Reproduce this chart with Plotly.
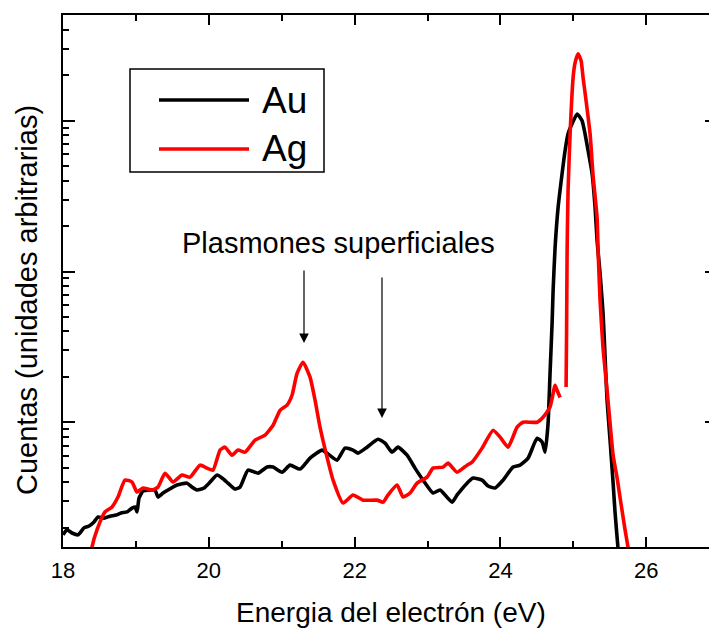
import plotly.graph_objects as go

# Au (black) spectrum: electron energy (eV) and counts (arb. units, log axis)
au_energy = [18.000, 18.055, 18.124, 18.206, 18.288, 18.357, 18.426, 18.480, 18.563, 18.645,
             18.727, 18.796, 18.878, 18.947, 18.988, 19.015, 19.043, 19.097, 19.193, 19.262,
             19.303, 19.372, 19.440, 19.564, 19.701, 19.770, 19.838, 19.934, 20.003, 20.113,
             20.181, 20.263, 20.359, 20.428, 20.538, 20.675, 20.798, 20.881, 21.004, 21.114,
             21.251, 21.388, 21.553, 21.621, 21.759, 21.868, 21.978, 22.047, 22.170, 22.321,
             22.417, 22.513, 22.595, 22.719, 22.828, 22.938, 23.075, 23.171, 23.336, 23.405,
             23.542, 23.624, 23.748, 23.830, 23.926, 24.036, 24.173, 24.269, 24.379, 24.502,
             24.571, 24.612, 24.653, 24.680, 24.708, 24.722, 24.749, 24.790, 24.845, 24.886,
             24.927, 24.982, 25.051, 25.119, 25.160, 25.202, 25.257, 25.298, 25.325, 25.366,
             25.407, 25.435, 25.462, 25.503, 25.545, 25.572, 25.614, 25.650]
au_counts = [0.179, 0.193, 0.184, 0.179, 0.199, 0.205, 0.218, 0.235, 0.231, 0.238,
             0.242, 0.250, 0.254, 0.269, 0.274, 0.254, 0.314, 0.349, 0.355, 0.355,
             0.319, 0.339, 0.355, 0.383, 0.394, 0.371, 0.355, 0.366, 0.394, 0.446,
             0.426, 0.394, 0.360, 0.371, 0.481, 0.459, 0.504, 0.504, 0.466, 0.519,
             0.489, 0.578, 0.653, 0.623, 0.560, 0.673, 0.653, 0.623, 0.683, 0.771,
             0.726, 0.633, 0.683, 0.604, 0.496, 0.413, 0.339, 0.355, 0.295, 0.329,
             0.394, 0.426, 0.413, 0.377, 0.366, 0.413, 0.504, 0.519, 0.578, 0.783,
             0.738, 0.633, 0.985, 2.11, 4.53, 7.48, 14.4, 26.5, 44.6, 63.3,
             82.0, 95.5, 111.0, 100.0, 82.0, 63.3, 44.6, 26.5, 16.0, 9.70,
             5.27, 2.69, 1.40, 0.760, 0.394, 0.250, 0.142, 0.090]

# Ag (red) spectrum; None marks the break in the recorded curve
ag_energy = [18.370, 18.398, 18.466, 18.576, 18.672, 18.754, 18.850, 18.947, 19.015, 19.097,
             19.221, 19.303, 19.399, 19.509, 19.632, 19.742, 19.879, 19.975, 20.058, 20.154,
             20.222, 20.318, 20.401, 20.497, 20.634, 20.771, 20.881, 20.977, 21.073, 21.141,
             21.210, 21.292, 21.388, 21.457, 21.525, 21.621, 21.704, 21.841, 21.978, 22.115,
             22.307, 22.390, 22.458, 22.582, 22.664, 22.760, 22.856, 22.993, 23.075, 23.213,
             23.281, 23.405, 23.542, 23.610, 23.748, 23.899, 23.995, 24.104, 24.228, 24.310,
             24.502, 24.584, 24.680, 24.749, 24.776, 24.818, None,
             24.900, 24.907, 24.914, 24.927, 24.955, 24.996, 25.023, 25.064, 25.106, 25.133,
             25.174, 25.229, 25.270, 25.325, 25.339, 25.366, 25.407, 25.462, 25.503, 25.545,
             25.600, 25.641, 25.709, 25.750, 25.800]
ag_counts = [0.122, 0.149, 0.193, 0.254, 0.274, 0.319, 0.413, 0.401, 0.344, 0.366,
             0.355, 0.371, 0.459, 0.401, 0.446, 0.432, 0.519, 0.496, 0.481, 0.653,
             0.683, 0.604, 0.653, 0.633, 0.760, 0.820, 0.955, 1.20, 1.30, 1.51,
             2.11, 2.50, 1.99, 1.40, 0.927, 0.587, 0.413, 0.291, 0.329, 0.304,
             0.304, 0.295, 0.329, 0.383, 0.319, 0.339, 0.394, 0.432, 0.496, 0.504,
             0.535, 0.466, 0.519, 0.543, 0.673, 0.885, 0.796, 0.683, 0.927, 1.0,
             1.0, 1.08, 1.26, 1.76, 1.63, 1.46, None,
             1.71, 4.07, 13.8, 34.4, 82.0, 193.0, 242.0, 278.0, 250.0, 193.0,
             136.0, 82.0, 43.2, 22.8, 13.8, 6.43, 3.09, 1.63, 0.985, 0.604,
             0.426, 0.314, 0.193, 0.147, 0.090]

x_range = [18, 26.86]
y_log_range = [-0.828, 2.702]
x_ticks = [18, 20, 22, 24, 26]
series_names = ["Au", "Ag"]
series_colors = ["#000000", "#ff0000"]

FONT = "Liberation Sans, Arial, sans-serif"

fig = go.Figure()
fig.add_trace(go.Scatter(x=au_energy, y=au_counts, mode="lines", name=series_names[0],
                         line=dict(color=series_colors[0], width=3.6, shape="spline",
                                   smoothing=0.5),
                         connectgaps=False, showlegend=False))
fig.add_trace(go.Scatter(x=ag_energy, y=ag_counts, mode="lines", name=series_names[1],
                         line=dict(color=series_colors[1], width=3.6, shape="spline",
                                   smoothing=0.5),
                         connectgaps=False, showlegend=False))
# invisible trace to drive the right-hand axis tick marks
fig.add_trace(go.Scatter(x=[None], y=[None], yaxis="y2", showlegend=False))

L, R, T, B = 63, 0, 15, 81
W, H = 709, 628
pw, ph = W - L - R, H - T - B


def px(xp):
    return (xp - L) / pw


def py(yp):
    return (H - B - yp) / ph


fig.update_layout(
    width=W, height=H,
    margin=dict(l=L, r=R, t=T, b=B, pad=0),
    paper_bgcolor="white", plot_bgcolor="white",
    font=dict(family=FONT, color="black"),
    showlegend=False,
    xaxis=dict(range=x_range, tickvals=x_ticks, ticktext=[str(t) for t in x_ticks],
               ticks="inside", ticklen=10, tickwidth=2, tickcolor="black",
               showline=True, linewidth=2, linecolor="black", mirror="ticks",
               showgrid=False, zeroline=False, ticklabelstandoff=3,
               tickfont=dict(size=22, family=FONT),
               minor=dict(dtick=1, tick0=18, ticks="inside", ticklen=6, tickwidth=2,
                          tickcolor="black", showgrid=False)),
    yaxis=dict(type="log", range=y_log_range, dtick=1,
               ticks="inside", ticklen=12, tickwidth=2, tickcolor="black",
               showticklabels=False, showline=True, linewidth=2, linecolor="black",
               showgrid=False, zeroline=False,
               minor=dict(dtick="D1", ticks="inside", ticklen=6, tickwidth=2,
                          tickcolor="black", showgrid=False)),
    yaxis2=dict(type="log", range=y_log_range, dtick=1, overlaying="y", side="right",
                anchor="x", ticks="inside", ticklen=4, tickwidth=2, tickcolor="black",
                showticklabels=False, showline=False, showgrid=False, zeroline=False),
)

# axis titles
fig.add_annotation(text="Energia del electrón (eV)", xref="paper", yref="paper",
                   x=px(391), y=py(612), showarrow=False, xanchor="center", yanchor="middle",
                   font=dict(size=28, family=FONT, color="black"))
fig.add_annotation(text="Cuentas (unidades arbitrarias)", xref="paper", yref="paper",
                   x=px(27), y=py(300), showarrow=False, textangle=-90,
                   xanchor="center", yanchor="middle",
                   font=dict(size=29, family=FONT, color="black"))

# plasmon label and arrows
fig.add_annotation(text="Plasmones superficiales", xref="paper", yref="paper",
                   x=px(338), y=py(243), showarrow=False, xanchor="center", yanchor="middle",
                   font=dict(size=29, family=FONT, color="black"))
fig.add_annotation(text="", xref="paper", yref="paper", x=px(304), y=py(343),
                   ax=0, ay=269 - 343, showarrow=True, arrowhead=2, arrowsize=1.6,
                   arrowwidth=1.2, arrowcolor="black")
fig.add_annotation(text="", xref="paper", yref="paper", x=px(382), y=py(418),
                   ax=0, ay=276 - 418, showarrow=True, arrowhead=2, arrowsize=1.6,
                   arrowwidth=1.2, arrowcolor="black")

# legend box drawn manually (long line samples)
fig.add_shape(type="rect", xref="paper", yref="paper", x0=px(130), x1=px(324),
              y0=py(172), y1=py(69), line=dict(color="black", width=1.5),
              fillcolor="white")
for name, col, yc in zip(series_names, series_colors, [100, 149]):
    fig.add_shape(type="line", xref="paper", yref="paper", x0=px(159), x1=px(249),
                  y0=py(yc), y1=py(yc), line=dict(color=col, width=3.6))
    fig.add_annotation(text=name, xref="paper", yref="paper", x=px(260), y=py(yc),
                       showarrow=False, xanchor="left", yanchor="middle",
                       font=dict(size=37, family=FONT, color="black"))

fig.write_html("out.html", config={"displayModeBar": False})
